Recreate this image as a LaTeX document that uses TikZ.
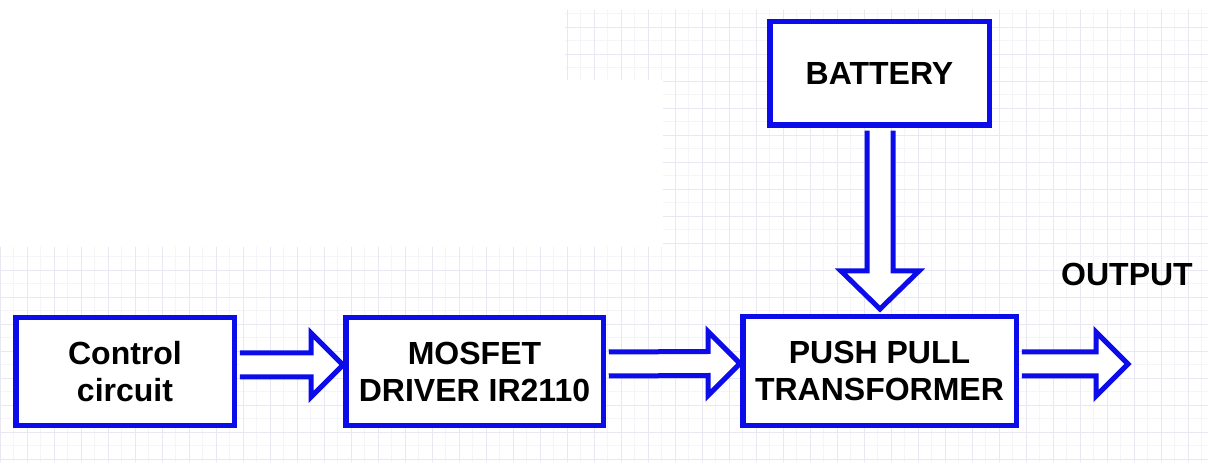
\documentclass[tikz,border=0pt]{standalone}
\usepackage{fontspec}
\setmainfont{Liberation Sans}
\usetikzlibrary{calc}
\definecolor{bblue}{RGB}{12,12,235}
\definecolor{gridmaj}{RGB}{232,232,242}
\definecolor{gridmin}{RGB}{244,244,249}
\newcommand\hblockarrow[2]{\draw[barrow] ($(#1)+(0,-12)$) -- ($(#2)+(-32,-12)$) -- ($(#2)+(-32,-32)$) -- (#2) -- ($(#2)+(-32,32)$) -- ($(#2)+(-32,12)$) -- ($(#1)+(0,12)$);}
\newcommand\vblockarrow[2]{\draw[barrow] ($(#1)+(-13,0)$) -- ($(#2)+(-13,-38)$) -- ($(#2)+(-39,-38)$) -- (#2) -- ($(#2)+(39,-38)$) -- ($(#2)+(13,-38)$) -- ($(#1)+(13,0)$);}
\begin{document}
\begin{tikzpicture}[x=1pt,y=-1pt,
  blk/.style={draw=bblue,line width=5.5pt,fill=white,inner sep=0pt,align=center,
    font=\fontsize{32}{37}\selectfont\bfseries},
  lbl/.style={inner sep=0pt,font=\fontsize{32}{37}\selectfont\bfseries},
  barrow/.style={draw=bblue,line width=5pt,fill=white,line join=miter},
  gmin/.style={draw=gridmin,line width=0.5pt},
  gmaj/.style={draw=gridmaj,line width=0.7pt}]
\useasboundingbox[fill=white] (0,0) rectangle (1208,470);
% faint background grid
\begin{scope}
  \clip (0,247) rectangle (1208,462) (663,10) rectangle (1208,247) (565,10) rectangle (663,80);
  \foreach \x in {0,13.5,...,1208} \draw[gmin] (\x,0) -- (\x,470);
  \foreach \y in {0,13.5,...,470} \draw[gmin] (0,\y) -- (1208,\y);
  \foreach \x in {0,27,...,1208} \draw[gmaj] (\x,0) -- (\x,470);
  \foreach \y in {0,27,...,470} \draw[gmaj] (0,\y) -- (1208,\y);
\end{scope}
% blocks
\node[blk,minimum width=218.5pt,minimum height=107.5pt] (ctrl) at (125,371.5) {Control\\circuit};
\node[blk,minimum width=257.5pt,minimum height=107.5pt] (mos) at (474.5,371.5) {MOSFET\\DRIVER IR2110};
\node[blk,minimum width=273.5pt,minimum height=108.5pt] (pp) at (879.5,371) {PUSH PULL\\TRANSFORMER};
\node[blk,minimum width=219.5pt,minimum height=103.5pt] (bat) at (879.5,73.5) {BATTERY};
\node[lbl] (out) at (1127,274) {OUTPUT};
% arrow end points
\coordinate (a1s) at ($(ctrl.east)+(2.75,-6.5)$);
\coordinate (a1t) at ($(mos.west)+(0,-6.5)$);
\coordinate (a2s) at ($(mos.east)+(2.75,-7.5)$);
\coordinate (a2t) at ($(pp.west)+(0,-7.5)$);
\coordinate (a3s) at ($(pp.east)+(2.75,-7)$);
\coordinate (outend) at (1128,364);
\coordinate (a4s) at ($(bat.south)+(0.5,2.75)$);
\coordinate (a4t) at ($(pp.north)+(0.5,-5)$);
% block arrows
\hblockarrow{a1s}{a1t}
\hblockarrow{a2s}{a2t}
\hblockarrow{a3s}{outend}
\vblockarrow{a4s}{a4t}
\end{tikzpicture}
\end{document}
